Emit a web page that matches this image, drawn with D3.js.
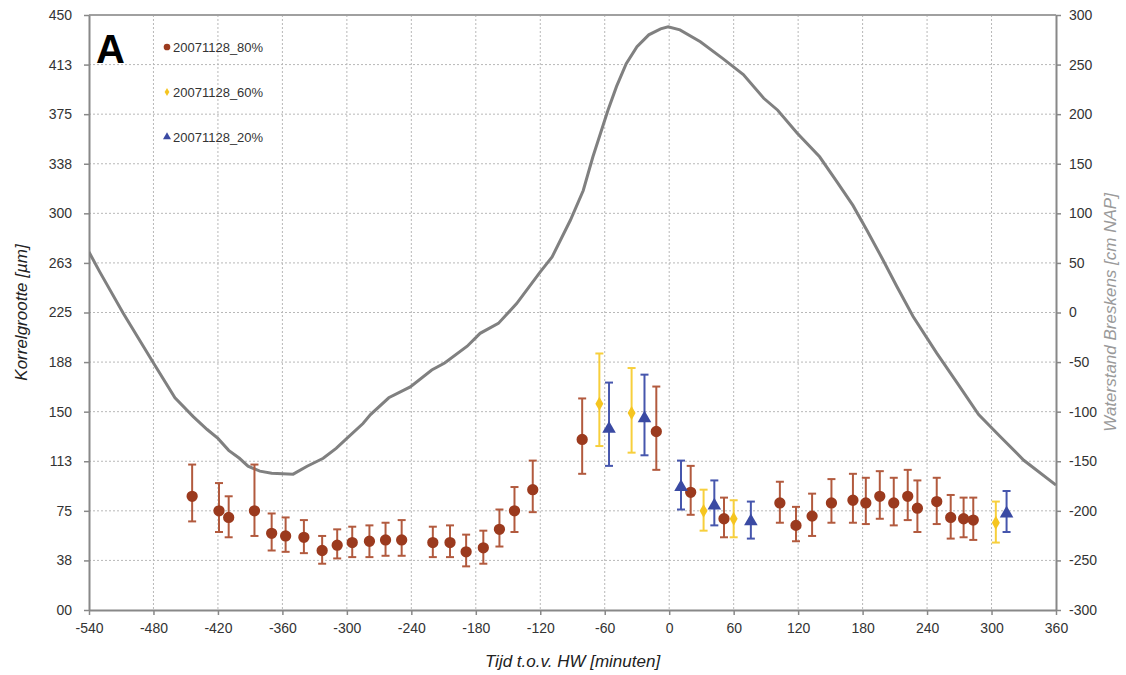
<!DOCTYPE html>
<html>
<head>
<meta charset="utf-8">
<script src="https://cdn.jsdelivr.net/npm/d3@7"></script>
<style>
  body { margin: 0; background: #fff; }
  text { font-family: "Liberation Sans", Arial, sans-serif; }
</style>
</head>
<body>
<svg width="1126" height="675"></svg>
<script>
// water level Breskens (right axis)
var tideTime = [-540, -530, -508, -480, -460, -443, -430, -420, -410, -400, -392, -381, -370, -350, -337, -322, -310, -300, -285, -278, -261, -241, -221, -209, -188, -176, -159, -142, -120, -109, -92, -80, -71, -57, -49, -40, -30, -19, -8, -1, 10, 29, 50, 69, 88, 101, 119, 140, 156, 171, 184, 199, 212, 227, 249, 268, 288, 308, 330, 360];
var tideLevel = [61, 41, -1, -51, -86, -105, -118, -127, -139, -147, -155, -160, -162, -163, -155, -147, -137, -127, -112, -103, -86, -75, -58, -51, -34, -21, -11, 9, 41, 56, 93, 123, 157, 204, 228, 251, 268, 280, 286, 288, 285, 273, 256, 240, 216, 204, 181, 157, 132, 108, 83, 53, 26, -4, -41, -71, -103, -125, -149, -174];

// grain size series: time, mean, upper, lower
var s80Time = [-444, -419, -410, -386, -370, -357, -340, -323, -309, -295, -279, -264, -249, -220, -204, -189, -173, -158, -144, -127, -81, -12, 20, 51, 103, 118, 133, 151, 171, 183, 196, 209, 222, 231, 249, 262, 274, 283];
var s80Mean = [86, 75, 70, 75, 58, 56, 55, 45, 49, 51, 52, 53, 53, 51, 51, 44, 47, 61, 75, 91, 129, 135, 89, 69, 81, 64, 71, 81, 83, 81, 86, 81, 86, 77, 82, 70, 69, 68];
var s80High = [110, 96, 86, 110, 73, 70, 68, 56, 61, 63, 64, 66, 68, 63, 64, 57, 60, 76, 93, 113, 160, 169, 109, 85, 97, 78, 88, 99, 103, 100, 105, 100, 106, 98, 100, 87, 85, 85];
var s80Low = [67, 59, 55, 56, 45, 44, 43, 35, 39, 40, 40, 41, 41, 40, 40, 33, 35, 48, 59, 74, 103, 106, 72, 55, 66, 52, 56, 66, 66, 65, 69, 64, 68, 59, 65, 54, 55, 53];

var s60Time = [-65, -35, 32, 60, 304];
var s60Mean = [156, 149, 75, 69, 66];
var s60High = [194, 183, 91, 83, 82];
var s60Low = [124, 119, 60, 55, 51];

var s20Time = [-56, -23, 11, 42, 76, 314];
var s20Mean = [137, 145, 93, 79, 67, 73];
var s20High = [172, 178, 113, 98, 82, 90];
var s20Low = [109, 117, 76, 64, 54, 59];

var xTicks = [-540, -480, -420, -360, -300, -240, -180, -120, -60, 0, 60, 120, 180, 240, 300, 360];
var yTicks = [0, 37.5, 75, 112.5, 150, 187.5, 225, 262.5, 300, 337.5, 375, 412.5, 450];
var yTickLabels = ['00', '38', '75', '113', '150', '188', '225', '263', '300', '338', '375', '413', '450'];
var y2Ticks = [-300, -250, -200, -150, -100, -50, 0, 50, 100, 150, 200, 250, 300];

var seriesNames = ['20071128_80%', '20071128_60%', '20071128_20%'];

var svg = d3.select('svg'),
  margin = {top: 15, right: 70, bottom: 65, left: 89},
  width = +svg.attr('width') - margin.left - margin.right,
  height = +svg.attr('height') - margin.top - margin.bottom,
  g = svg.append('g').attr('transform', 'translate(' + margin.left + ',' + margin.top + ')');

var x = d3.scaleLinear().domain([-540, 360]).range([0, width]);
var y = d3.scaleLinear().domain([0, 450]).range([height, 0]);
var y2 = d3.scaleLinear().domain([-300, 300]).range([height, 0]);

// plain hyphen minus like the original
var plain = d => String(d);

// grid
g.append('g').selectAll('line').data(xTicks.slice(1, -1)).enter().append('line')
  .attr('x1', d => x(d)).attr('x2', d => x(d)).attr('y1', 0).attr('y2', height)
  .attr('stroke', '#b8b8b8').attr('stroke-dasharray', '2,2');
g.append('g').selectAll('line').data(yTicks.slice(1, -1)).enter().append('line')
  .attr('x1', 0).attr('x2', width).attr('y1', d => y(d)).attr('y2', d => y(d))
  .attr('stroke', '#b8b8b8').attr('stroke-dasharray', '2,2');

// top border
g.append('line').attr('x1', 0).attr('x2', width).attr('y1', 0).attr('y2', 0)
  .attr('stroke', '#a0a0a0').attr('stroke-width', 2);

// axes
function styleAxis(sel) {
  sel.select('.domain').attr('stroke', '#888').attr('stroke-width', 2);
  sel.selectAll('.tick line').attr('stroke', '#888').attr('stroke-width', 1.5);
  sel.selectAll('.tick text').attr('fill', '#333').style('font-size', '14px');
}

g.append('g').attr('transform', 'translate(0,' + height + ')')
  .call(d3.axisBottom(x).tickValues(xTicks).tickFormat(plain).tickSize(5).tickSizeOuter(0).tickPadding(8))
  .call(styleAxis);

g.append('g')
  .call(d3.axisLeft(y).tickValues(yTicks).tickFormat((d, i) => yTickLabels[i]).tickSize(5).tickSizeOuter(0).tickPadding(12))
  .call(styleAxis);

g.append('g').attr('transform', 'translate(' + width + ',0)')
  .call(d3.axisRight(y2).tickValues(y2Ticks).tickFormat(plain).tickSize(5).tickSizeOuter(0).tickPadding(8))
  .call(styleAxis);

// axis titles
svg.append('text').attr('x', margin.left + x(-90)).attr('y', 667)
  .attr('text-anchor', 'middle').style('font-size', '17px').style('font-style', 'italic')
  .attr('fill', '#222').text('Tijd t.o.v. HW [minuten]');
svg.append('text').attr('transform', 'translate(27,' + (margin.top + height / 2) + ') rotate(-90)')
  .attr('text-anchor', 'middle').style('font-size', '17px').style('font-style', 'italic')
  .attr('fill', '#222').text('Korrelgrootte [µm]');
svg.append('text').attr('transform', 'translate(1116,' + (margin.top + height / 2) + ') rotate(-90)')
  .attr('text-anchor', 'middle').style('font-size', '17px').style('font-style', 'italic')
  .attr('fill', '#9a9a9a').text('Waterstand Breskens [cm NAP]');

// water level curve
svg.append('clipPath').attr('id', 'clip').append('rect').attr('width', width).attr('height', height);
var line = d3.line().x(d => x(d[0])).y(d => y2(d[1]));
g.append('path').datum(d3.zip(tideTime, tideLevel))
  .attr('clip-path', 'url(#clip)')
  .attr('d', line).attr('fill', 'none').attr('stroke', '#808080').attr('stroke-width', 3);

// series with error bars
var series = [
  {name: seriesNames[0], t: s80Time, m: s80Mean, hi: s80High, lo: s80Low, color: '#9b3a1e', bar: '#b25a3e', sym: d3.symbolCircle, size: 100},
  {name: seriesNames[1], t: s60Time, m: s60Mean, hi: s60High, lo: s60Low, color: '#f5c520', bar: '#f7cf3c', sym: d3.symbolDiamond, size: 55},
  {name: seriesNames[2], t: s20Time, m: s20Mean, hi: s20High, lo: s20Low, color: '#3a4aa3', bar: '#4656ad', sym: d3.symbolTriangle, size: 80}
];

series.forEach(function(s) {
  var pts = s.t.map((t, i) => ({t: t, m: s.m[i], hi: s.hi[i], lo: s.lo[i]}));
  var grp = g.append('g').selectAll('g').data(pts).enter().append('g');
  grp.append('line').attr('x1', d => x(d.t)).attr('x2', d => x(d.t))
    .attr('y1', d => y(d.hi)).attr('y2', d => y(d.lo)).attr('stroke', s.bar).attr('stroke-width', 2);
  grp.append('line').attr('x1', d => x(d.t) - 4).attr('x2', d => x(d.t) + 4)
    .attr('y1', d => y(d.hi)).attr('y2', d => y(d.hi)).attr('stroke', s.bar).attr('stroke-width', 2);
  grp.append('line').attr('x1', d => x(d.t) - 4).attr('x2', d => x(d.t) + 4)
    .attr('y1', d => y(d.lo)).attr('y2', d => y(d.lo)).attr('stroke', s.bar).attr('stroke-width', 2);
  grp.append('path').attr('d', d3.symbol().type(s.sym).size(s.size))
    .attr('transform', d => 'translate(' + x(d.t) + ',' + y(d.m) + ')')
    .attr('fill', s.color);
});

// legend
var legend = svg.append('g').selectAll('g').data(series).enter().append('g')
  .attr('transform', (d, i) => 'translate(167,' + (47 + i * 45) + ')');
legend.append('path').attr('d', d => d3.symbol().type(d.sym).size(d.size * 0.35)())
  .attr('fill', d => d.color);
legend.append('text').attr('x', 6).attr('dy', '0.35em').style('font-size', '13px')
  .attr('fill', '#333').text(d => d.name);

// panel letter
svg.append('text').attr('x', 96).attr('y', 63).style('font-size', '40px')
  .style('font-weight', 'bold').attr('fill', '#000').text('A');
</script>
</body>
</html>
